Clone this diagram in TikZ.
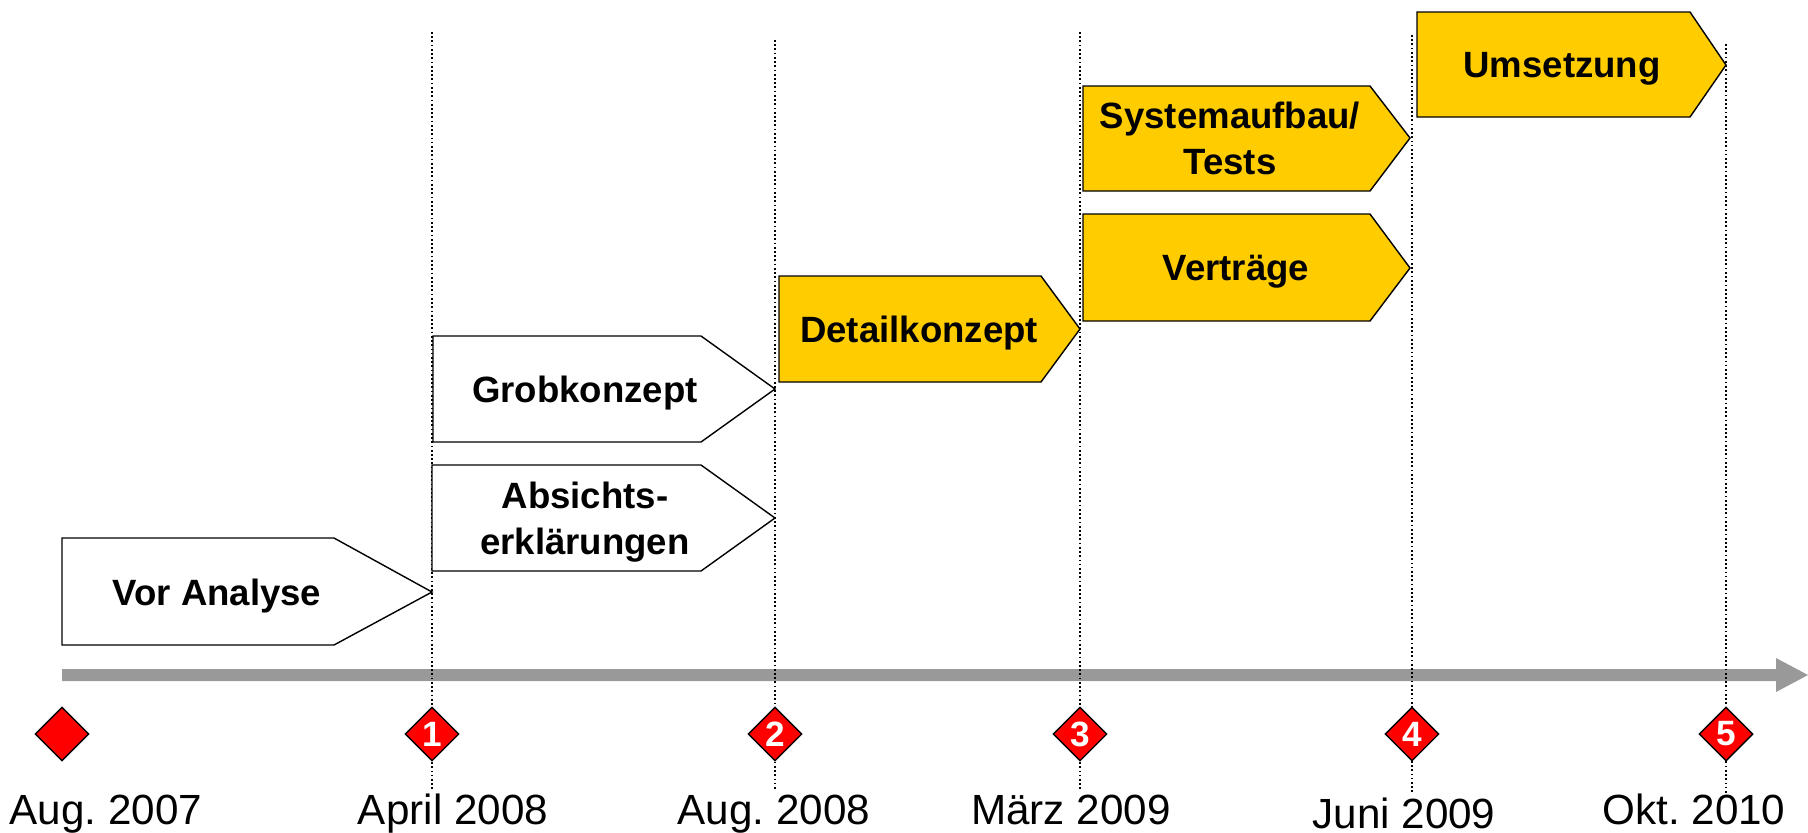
\documentclass[tikz,border=0pt]{standalone}
\usepackage{fontspec}
\setmainfont{Liberation Sans}
\frenchspacing
\usetikzlibrary{shapes.geometric}
\definecolor{phaseyellow}{HTML}{FFCC00}
\definecolor{axisgray}{HTML}{999999}
\tikzset{
	phase/.style={draw=black, line width=0.4pt, line join=miter},
	phasetext/.style={font=\fontsize{10.4}{13.1}\selectfont\bfseries, align=center, text depth=0pt, inner sep=0pt},
	milestone/.style={diamond, draw=black, fill=red, line width=0.4pt, minimum width=0.54cm, minimum height=0.54cm,
		inner sep=0pt, text=white, font=\fontsize{10}{10}\selectfont\bfseries},
	datelabel/.style={font=\fontsize{12}{14}\selectfont, anchor=base, inner sep=0pt},
	guide/.style={line width=0.4pt, dash pattern=on 0.5pt off 0.7pt}
}

\begin{document}
\begin{tikzpicture}[x=0.01cm, y=-0.01cm]
	\useasboundingbox (0,0) rectangle (1808,832);

	% time axis
	\fill[axisgray](62,669)--(1776,669)--(1776,658)--(1808,675)--(1776,692)--(1776,681)--(62,681)--cycle;

	% guide lines
	\coordinate (g1) at (432,32);  \coordinate (b1) at (432,790);
	\coordinate (g2) at (775,40);  \coordinate (b2) at (775,790);
	\coordinate (g3) at (1080,32); \coordinate (b3) at (1080,790);
	\coordinate (g4) at (1412,35); \coordinate (b4) at (1412,792);
	\coordinate (g5) at (1726,44); \coordinate (b5) at (1726,797);
	\draw[guide] (g1) -- (b1);
	\draw[guide] (g2) -- (b2);
	\draw[guide] (g3) -- (b3);
	\draw[guide] (g4) -- (b4);
	\draw[guide] (g5) -- (b5);

	% phases
	\draw[phase, fill=white](62,538)--(334,538)--(432,592)--(334,645)--(62,645)--cycle;
	\node[phasetext] (vor) at (217,592) {Vor Analyse};

	\draw[phase, fill=white](432,465)--(701,465)--(775,518)--(701,571)--(432,571)--cycle;
	\node[phasetext] (absicht) at (585,518) {Absichts-\\erklärungen};

	\draw[phase, fill=white](433,336)--(701,336)--(775,389)--(701,442)--(433,442)--cycle;
	\node[phasetext] (grob) at (585,389) {Grobkonzept};

	\draw[phase, fill=phaseyellow](779,276)--(1041,276)--(1080,329)--(1041,382)--(779,382)--cycle;
	\node[phasetext] (detail) at (919,329) {Detailkonzept};

	\draw[phase, fill=phaseyellow](1083,214)--(1370,214)--(1410,268)--(1370,321)--(1083,321)--cycle;
	\node[phasetext] (vertrag) at (1236,268) {Verträge};

	\draw[phase, fill=phaseyellow](1083,86)--(1370,86)--(1410,138)--(1370,191)--(1083,191)--cycle;
	\node[phasetext] (system) at (1230,138) {Systemaufbau/\\Tests};

	\draw[phase, fill=phaseyellow](1417,12)--(1690,12)--(1726,65)--(1690,117)--(1417,117)--cycle;
	\node[phasetext] (umsetz) at (1562,65) {Umsetzung};

	% milestones
	\node[milestone] (m0) at (62,734) {};
	\node[milestone] (m1) at (432,734) {1};
	\node[milestone] (m2) at (775,734) {2};
	\node[milestone] (m3) at (1080,734) {3};
	\node[milestone] (m4) at (1412,734) {4};
	\node[milestone] (m5) at (1726,734) {5};

	\node[datelabel] (d0) at (106,824) {Aug. 2007};
	\node[datelabel] (d1) at (453,824) {April 2008};
	\node[datelabel] (d2) at (774,824) {Aug. 2008};
	\node[datelabel] (d3) at (1071,824) {März 2009};
	\node[datelabel] (d4) at (1404,828) {Juni 2009};
	\node[datelabel] (d5) at (1694,824) {Okt. 2010};
\end{tikzpicture}
\end{document}
